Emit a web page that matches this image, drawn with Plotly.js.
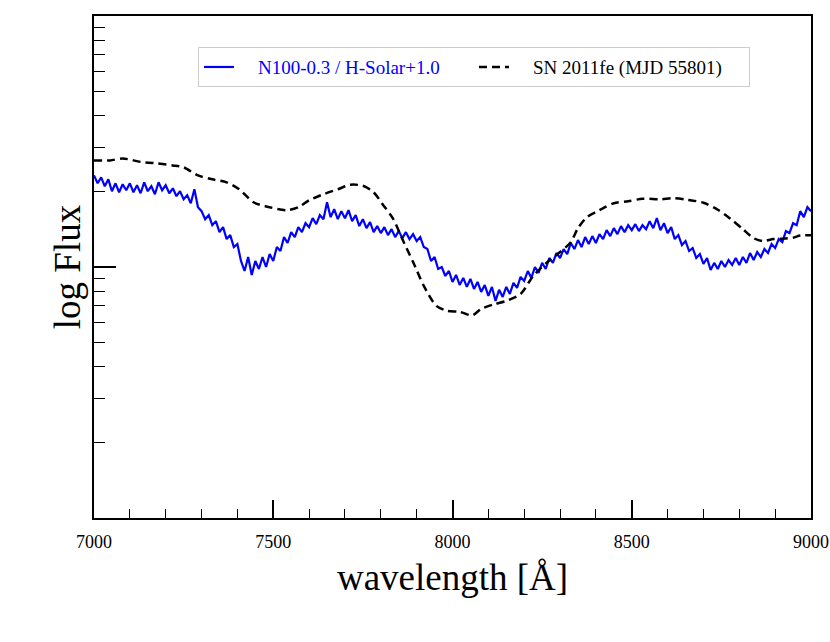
<!DOCTYPE html>
<html>
<head>
<meta charset="utf-8">
<script src="https://cdn.plot.ly/plotly-3.0.1.min.js"></script>
<style>html,body{margin:0;padding:0;background:#fff}#chart{width:830px;height:642px}</style>
</head>
<body>
<div id="chart"></div>
<script>
// Model spectrum N100-0.3 / H-Solar+1.0 (wavelength in Å, flux)
const modelWavelength = [
 7000,7010,7020,7030,7040,7050,7060,7070,7080,7090,
 7100,7110,7120,7130,7140,7150,7160,7170,7180,7190,
 7200,7210,7220,7230,7240,7250,7260,7270,7280,7290,
 7300,7310,7320,7330,7340,7350,7360,7370,7380,7390,
 7400,7410,7420,7430,7440,7450,7460,7470,7480,7490,
 7500,7510,7520,7530,7540,7550,7560,7570,7580,7590,
 7600,7610,7620,7630,7640,7650,7660,7670,7680,7690,
 7700,7710,7720,7730,7740,7750,7760,7770,7780,7790,
 7800,7810,7820,7830,7840,7850,7860,7870,7880,7890,
 7900,7910,7920,7930,7940,7950,7960,7970,7980,7990,
 8000,8010,8020,8030,8040,8050,8060,8070,8080,8090,
 8100,8110,8120,8130,8140,8150,8160,8170,8180,8190,
 8200,8210,8220,8230,8240,8250,8260,8270,8280,8290,
 8300,8310,8320,8330,8340,8350,8360,8370,8380,8390,
 8400,8410,8420,8430,8440,8450,8460,8470,8480,8490,
 8500,8510,8520,8530,8540,8550,8560,8570,8580,8590,
 8600,8610,8620,8630,8640,8650,8660,8670,8680,8690,
 8700,8710,8720,8730,8740,8750,8760,8770,8780,8790,
 8800,8810,8820,8830,8840,8850,8860,8870,8880,8890,
 8900,8910,8920,8930,8940,8950,8960,8970,8980,8990,9000
];
const modelFlux = [
 2.318,2.155,2.276,2.097,2.235,2.004,2.155,1.985,2.135,2.022,
 2.155,1.985,2.116,1.967,2.175,2.004,2.097,1.949,2.175,2.022,
 2.116,1.967,2.059,1.914,2.004,1.862,1.932,1.795,2.040,1.731,
 1.669,1.551,1.609,1.468,1.523,1.377,1.441,1.292,1.340,1.201,
 1.234,1.057,0.964,1.096,0.930,1.057,0.982,1.096,1.000,1.126,
 1.057,1.201,1.158,1.316,1.246,1.377,1.316,1.441,1.377,1.495,
 1.441,1.565,1.481,1.609,1.551,1.812,1.580,1.699,1.551,1.669,
 1.565,1.684,1.523,1.609,1.455,1.551,1.428,1.509,1.377,1.455,
 1.365,1.441,1.340,1.415,1.316,1.390,1.304,1.377,1.292,1.352,
 1.269,1.316,1.201,1.179,1.057,1.096,0.982,1.000,0.921,0.964,
 0.872,0.930,0.848,0.905,0.833,0.896,0.818,0.872,0.796,0.848,
 0.767,0.833,0.733,0.811,0.760,0.833,0.781,0.864,0.826,0.913,
 0.880,0.964,0.905,1.000,0.947,1.038,0.982,1.086,1.038,1.137,
 1.086,1.179,1.126,1.246,1.179,1.280,1.201,1.316,1.234,1.328,
 1.246,1.352,1.292,1.402,1.328,1.428,1.352,1.455,1.377,1.468,
 1.402,1.481,1.390,1.468,1.415,1.523,1.428,1.565,1.402,1.495,
 1.365,1.441,1.292,1.340,1.223,1.269,1.158,1.190,1.086,1.126,
 1.028,1.086,0.973,1.038,0.982,1.057,1.000,1.066,1.019,1.086,
 1.019,1.096,1.038,1.137,1.066,1.147,1.096,1.179,1.137,1.234,
 1.190,1.292,1.257,1.390,1.365,1.495,1.468,1.669,1.580,1.731,1.669
];

// Observed SN 2011fe (MJD 55801)
const obsWavelength = [
 7000,7045,7080,7130,7175,7220,7250,7290,7330,7370,7405,7445,7490,7538,7570,7600,7640,7680,7715,7750,
 7780,7805,7835,7860,7890,7920,7955,7985,8020,8055,8080,8115,8150,8190,8225,8265,8300,8330,8350,8375,
 8410,8450,8490,8530,8580,8615,8655,8700,8740,8775,8810,8840,8865,8895,8920,8950,8970,9000
];
const obsFlux = [
 2.658,2.658,2.707,2.623,2.587,2.540,2.494,2.318,2.235,2.175,2.040,1.811,1.730,1.684,1.730,1.844,1.949,2.040,2.126,2.106,
 1.984,1.778,1.551,1.292,1.047,0.841,0.700,0.669,0.663,0.642,0.681,0.710,0.733,0.781,0.921,1.047,1.147,1.256,1.428,1.579,
 1.684,1.795,1.828,1.870,1.862,1.879,1.853,1.803,1.691,1.557,1.415,1.303,1.268,1.292,1.297,1.309,1.334,1.339
];

const seriesNames = ['N100-0.3 / H-Solar+1.0', 'SN 2011fe (MJD 55801)'];
const xTickVals = [7000, 7500, 8000, 8500, 9000];
const yMajorTicks = [1];
const yMinorTicks = [0.2,0.3,0.4,0.5,0.6,0.7,0.8,0.9,2,3,4,5,6,7,8,9];

const serif = 'Liberation Serif, Times New Roman, serif';
const pad = '\u00A0\u00A0\u00A0\u00A0';

const traces = [
  {
    x: modelWavelength, y: modelFlux, type: 'scatter', mode: 'lines',
    name: '<span style="color:#0000ff">' + pad + seriesNames[0] + '</span>',
    line: {color: '#0000ff', width: 2.2}
  },
  {
    x: obsWavelength, y: obsFlux, type: 'scatter', mode: 'lines',
    name: pad + seriesNames[1],
    line: {color: '#000000', width: 2.5, dash: '8px,5px', shape: 'spline', smoothing: 0.8}
  }
];

const layout = {
  width: 830, height: 642,
  margin: {l: 94, r: 19, t: 16, b: 124, autoexpand: false},
  paper_bgcolor: '#fff', plot_bgcolor: '#fff',
  font: {family: serif, color: '#000'},
  showlegend: true,
  legend: {
    orientation: 'h', x: 0.145, y: 0.938, xanchor: 'left', yanchor: 'top',
    bordercolor: '#cccccc', borderwidth: 1, bgcolor: '#fff',
    font: {family: serif, size: 19, color: '#000'},
    entrywidth: 230
  },
  xaxis: {
    range: [7000, 9000], tickmode: 'array', tickvals: xTickVals,
    ticks: 'inside', ticklen: 18, tickwidth: 2, tickcolor: '#000',
    minor: {dtick: 100, ticks: 'inside', ticklen: 9, tickwidth: 1, tickcolor: '#000'},
    showline: true, linecolor: '#000', linewidth: 2, mirror: true,
    showgrid: false, zeroline: false, automargin: false,
    ticklabelstandoff: 6,
    tickfont: {family: serif, size: 18, color: '#000'},
    title: {text: 'wavelength [Å]', font: {family: serif, size: 37, color: '#000'}, standoff: 14}
  },
  yaxis: {
    type: 'log', range: [-1, 1],
    tickmode: 'array', tickvals: yMajorTicks, showticklabels: false,
    ticks: 'inside', ticklen: 22, tickwidth: 2, tickcolor: '#000',
    minor: {tickmode: 'array', tickvals: yMinorTicks, ticks: 'inside', ticklen: 11, tickwidth: 1, tickcolor: '#000'},
    showline: true, linecolor: '#000', linewidth: 2, mirror: true,
    showgrid: false, zeroline: false, automargin: false,
    title: {text: 'log Flux', font: {family: serif, size: 37, color: '#000'}, standoff: 0}
  }
};

Plotly.newPlot('chart', traces, layout, {displayModeBar: false, staticPlot: true});
</script>
</body>
</html>
